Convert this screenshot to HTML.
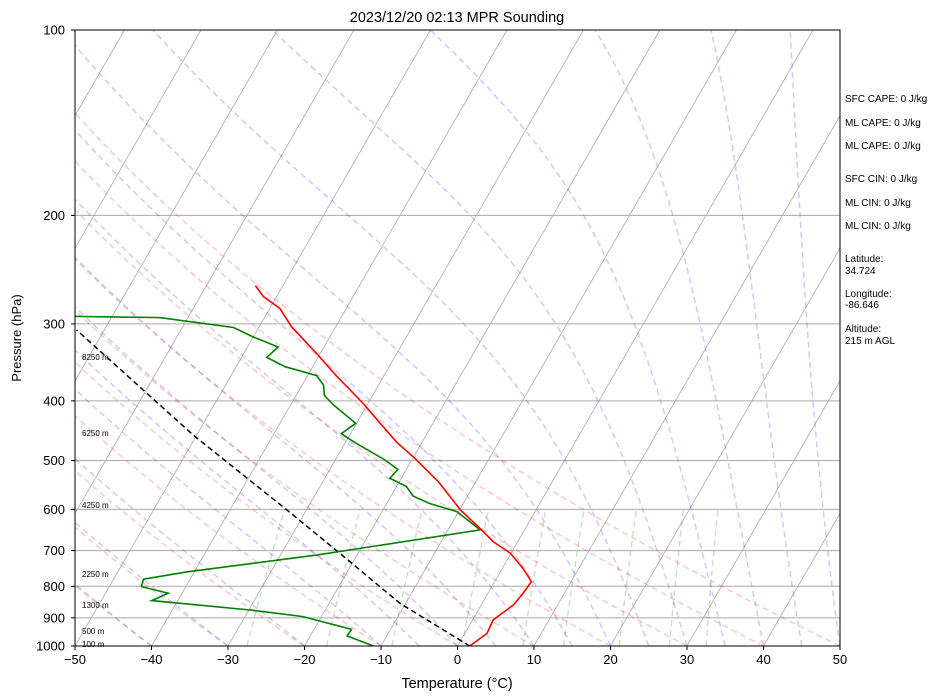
<!DOCTYPE html>
<html><head><meta charset="utf-8"><style>
body{margin:0;background:#fff;}
svg{display:block;font-family:"Liberation Sans","DejaVu Sans",sans-serif;}
</style></head><body>
<svg id="chart" width="947" height="700" viewBox="0 0 947 700" xmlns="http://www.w3.org/2000/svg">
<defs><clipPath id="clip"><rect x="75" y="30" width="765" height="616"/></clipPath></defs>
<rect x="0" y="0" width="947" height="700" fill="#fff"/>
<text x="457" y="22" font-size="14.5" text-anchor="middle">2023/12/20 02:13 MPR Sounding</text>
<g id="bg" clip-path="url(#clip)"></g>
<g id="data" clip-path="url(#clip)"></g>
<rect x="75" y="30" width="765" height="616" fill="none" stroke="#000" stroke-width="1"/>
<g id="axes"></g>
<text x="21" y="338" font-size="13" text-anchor="middle" transform="rotate(-90 21 338)">Pressure (hPa)</text>
<text x="457" y="688" font-size="14.5" text-anchor="middle">Temperature (°C)</text>
<g font-size="8" fill="#000">
<text x="82" y="360">8250 m</text><text x="82" y="436">6250 m</text><text x="82" y="508">4250 m</text>
<text x="82" y="577">2250 m</text><text x="82" y="608">1300 m</text><text x="82" y="634">500 m</text><text x="82" y="647">100 m</text>
</g>
<g font-size="10" fill="#000">
<text x="845" y="102">SFC CAPE: 0 J/kg</text><text x="845" y="126">ML CAPE: 0 J/kg</text><text x="845" y="149">ML CAPE: 0 J/kg</text>
<text x="845" y="182">SFC CIN: 0 J/kg</text><text x="845" y="206">ML CIN: 0 J/kg</text><text x="845" y="229">ML CIN: 0 J/kg</text>
<text x="845" y="262">Latitude:</text><text x="845" y="274">34.724</text>
<text x="845" y="297">Longitude:</text><text x="845" y="308">-86.646</text>
<text x="845" y="332">Altitude:</text><text x="845" y="344">215 m AGL</text>
</g>
</svg>
<script>
const tempP=[1000,954,907,858,821,786,748,707,677,648,601,541,496,467,435,404,365,335,303,283,271,260];
const tempT=[1.6,2.9,2.7,4.2,4.6,4.8,2.7,-0.1,-3.2,-5.6,-9.9,-14.9,-19.7,-23.3,-26.9,-30.6,-36.1,-40.5,-45.8,-48.7,-51.7,-53.6];
const dewP=[1000,963,940,896,874,844,821,801,779,758,712,648,605,587,571,551,534,517,499,466,452,435,406,392,377,364,352,340,327,315,304,293,291];
const dewT=[-11.0,-15.2,-15.1,-22.4,-29.8,-43.4,-41.8,-45.8,-46.1,-41.0,-25.3,-5.8,-10.2,-14.4,-17.1,-18.7,-21.5,-21.1,-23.5,-29.0,-31.2,-30.1,-34.4,-36.3,-37.2,-38.8,-43.6,-46.7,-46.0,-50.0,-53.3,-63.7,-80];
const parcelP=[1000,853,707,601,455,307];
const parcelT=[1.6,-10.7,-22.4,-32.6,-50.4,-73.6];
const pTicks=[100,200,300,400,500,600,700,800,900,1000];
const tTicks=[-50,-40,-30,-20,-10,0,10,20,30,40,50];
const mixRatios=[0.0004,0.001,0.002,0.004,0.007,0.01,0.016,0.024,0.032];
const dryT0=[-50,-40,-30,-20,-10,0,10,20,30,40,50];
const moistT0=[-50,-40,-30,-20,-10,-5,0,5,10,15,20,25,30,35,40,45,50];

const NS='http://www.w3.org/2000/svg';
const X0=75,X1=840,YB=646,YT=30,TMIN=-50,TMAX=50,SK=0.577;
const pxT=(X1-X0)/(TMAX-TMIN);
function yP(p){return YB-(YB-YT)*Math.log10(1000/p);}
function xT(t,p){return X0+(t-TMIN)*pxT+(YB-yP(p))*SK;}
function mk(tag,attrs,parent){const e=document.createElementNS(NS,tag);for(const k in attrs)e.setAttribute(k,attrs[k]);parent.appendChild(e);return e;}
function pathD(ps,ts){return ps.map((p,i)=>(i?'L':'M')+xT(ts[i],p).toFixed(1)+','+yP(p).toFixed(1)).join('');}
const bg=document.getElementById('bg'),dg=document.getElementById('data'),ax=document.getElementById('axes');

pTicks.forEach(p=>{const l=mk('line',{x1:X0,x2:X1,y1:yP(p),y2:yP(p),stroke:'#aaa','stroke-width':1},bg);

});
for(let t=-160;t<=50;t+=10){const l=mk('line',{x1:xT(t,1000),y1:yP(1000),x2:xT(t,100),y2:yP(100),stroke:'#aaa','stroke-width':0.8},bg);

}
const pl=[];for(let p=1000;p>=100;p-=10)pl.push(p);
dryT0.forEach(th=>{const ts=pl.map(p=>(th+273.15)*Math.pow(p/1000,0.2857)-273.15);
const e=mk('path',{d:pathD(pl,ts),fill:'none',stroke:'rgba(255,0,0,0.22)','stroke-width':1.5,'stroke-dasharray':'6,4'},bg);

});
function es(T){return 6.112*Math.exp(17.67*T/(T+243.5));}
function moist(t0){const ps=[],ts=[];let T=t0+273.15;for(let p=1000;p>=100;p-=5){ps.push(p);ts.push(T-273.15);
const rs=0.622*es(T-273.15)/(p-es(T-273.15));const dTdp=(287.04*T+2.501e6*rs)/(p*(1005.7+2.501e6*2.501e6*rs*0.622/(287.04*T*T)));T-=dTdp*5;}return [ps,ts];}
moistT0.forEach(t0=>{const [ps,ts]=moist(t0);const e=mk('path',{d:pathD(ps,ts),fill:'none',stroke:'rgba(60,40,255,0.25)','stroke-width':1.5,'stroke-dasharray':'6,4'},bg);

});
const pm=[];for(let p=1000;p>=600;p-=10)pm.push(p);
mixRatios.forEach(w=>{const ts=pm.map(p=>{const e=p*w/(0.622+w);const l=Math.log(e/6.112);return 243.5*l/(17.67-l);});
const e=mk('path',{d:pathD(pm,ts),fill:'none',stroke:'rgba(0,128,0,0.22)','stroke-width':1.5,'stroke-dasharray':'6,4'},bg);

});
const pp=mk('path',{d:pathD(parcelP,parcelT),fill:'none',stroke:'#000','stroke-width':1.5,'stroke-dasharray':'5.5,3.5'},dg);


const dp=mk('path',{d:pathD(dewP,dewT),fill:'none',stroke:'green','stroke-width':1.6},dg);


const tp=mk('path',{d:pathD(tempP,tempT),fill:'none',stroke:'red','stroke-width':1.6},dg);


pTicks.forEach(p=>{const y=yP(p);mk('line',{x1:X0-4,x2:X0,y1:y,y2:y,stroke:'#000'},ax);
const t=mk('text',{x:X0-10,y:y+4.5,'font-size':13,'text-anchor':'end'},ax);t.textContent=p;

});
tTicks.forEach(v=>{const x=X0+(v-TMIN)*pxT;mk('line',{x1:x,x2:x,y1:YB,y2:YB+4,stroke:'#000'},ax);
const t=mk('text',{x:x,y:YB+18,'font-size':13,'text-anchor':'middle'},ax);t.textContent=(v<0?'\u2212'+(-v):v);

});
</script>
</body></html>
